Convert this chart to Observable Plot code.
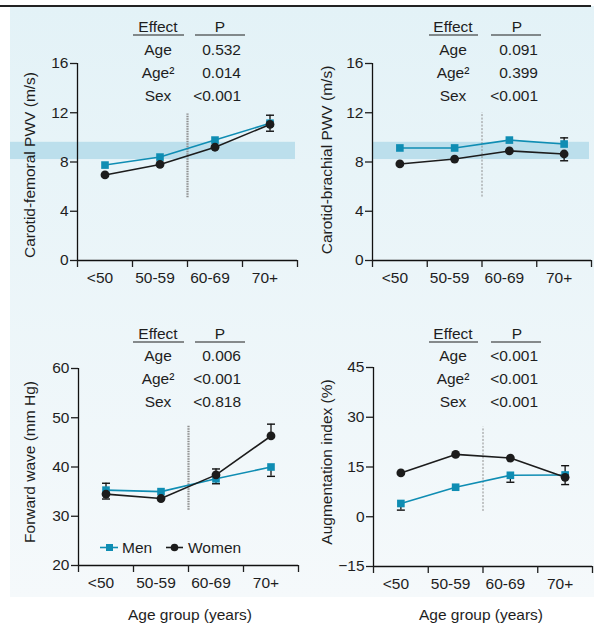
<!DOCTYPE html>
<html><head><meta charset="utf-8">
<script src="https://cdn.jsdelivr.net/npm/d3@7"></script>
<script src="https://cdn.jsdelivr.net/npm/@observablehq/plot@0.6"></script>
<style>
body{margin:0;background:#fff;}
#wrap{position:relative;width:594px;height:630px;overflow:hidden;font-family:"Liberation Sans",Arial,sans-serif;}
.bg{position:absolute;left:10px;top:6px;width:584px;height:591px;background:linear-gradient(#e3f2f7,#f5f9fb);}
.topline{position:absolute;left:0;top:5px;width:591px;height:1.5px;background:#222;}
.p{position:absolute;}
</style></head>
<body><div id="wrap"><div class="bg"></div><div class="topline"></div></div>
<script>
const categories = ["<50", "50-59", "60-69", "70+"];
const effects = ["Age", "Age²", "Sex"];

// Carotid-femoral PWV (m/s)
const cfMen = [7.75, 8.4, 9.78, 11.15];
const cfWomen = [6.95, 7.8, 9.2, 11.05];
const cfMenUp = [0, 0, 0, 0], cfMenDown = [0, 0, 0, 0.65];
const cfWomenUp = [0, 0, 0, 0.75], cfWomenDown = [0, 0, 0, 0];
const cfP = ["0.532", "0.014", "<0.001"];
const cfDivider = [5.1, 11.9];

// Carotid-brachial PWV (m/s)
const cbMen = [9.14, 9.14, 9.78, 9.46];
const cbWomen = [7.84, 8.24, 8.9, 8.65];
const cbMenUp = [0, 0, 0, 0.5], cbMenDown = [0, 0, 0, 0];
const cbWomenUp = [0, 0, 0, 0], cbWomenDown = [0, 0, 0, 0.55];
const cbP = ["0.091", "0.399", "<0.001"];
const cbDivider = [5.15, 12.0];

// Forward wave (mm Hg)
const fwMen = [35.3, 35.0, 37.6, 40.0];
const fwWomen = [34.5, 33.6, 38.4, 46.3];
const fwMenUp = [1.4, 0, 0, 0], fwMenDown = [0, 0, 1.0, 1.9];
const fwWomenUp = [0, 0, 1.2, 2.4], fwWomenDown = [1.0, 0, 0, 0];
const fwP = ["0.006", "<0.001", "<0.818"];
const fwDivider = [31.2, 48.4];

// Augmentation index (%)
const aiMen = [4.0, 8.9, 12.5, 12.6];
const aiWomen = [13.2, 18.8, 17.7, 11.9];
const aiMenUp = [0, 0, 0, 2.8], aiMenDown = [2.0, 0, 2.1, 0];
const aiWomenUp = [0, 0, 0, 0], aiWomenDown = [0, 0, 0, 2.2];
const aiP = ["<0.001", "<0.001", "<0.001"];
const aiDivider = [1.6, 27.0];

const referenceBand = [8.2, 9.6];
const seriesNames = ["Men", "Women"];

const teal = "#0f8db3";
const dark = "#1c1c1c";
const ink = "#1e1e1e";
const FS = 15.5;

const capSymbol = {
  draw(ctx, size) {
    const w = Math.sqrt(size / Math.PI);
    ctx.moveTo(-w, 0);
    ctx.lineTo(w, 0);
  }
};

function makePanel(cfg) {
  const rows = categories.map((c, i) => ({c, x: i + 0.5, men: cfg.men[i], women: cfg.women[i]}));
  const errs = [];
  categories.forEach((c, i) => {
    [["men", cfg.menUp, 1], ["men", cfg.menDown, -1], ["women", cfg.womenUp, 1], ["women", cfg.womenDown, -1]]
      .forEach(([s, arr, sg]) => {
        if (arr[i]) errs.push({x: i + 0.5, y1: cfg[s][i], y2: cfg[s][i] + sg * arr[i]});
      });
  });
  const plot = Plot.plot({
    width: cfg.width, height: cfg.height,
    marginTop: cfg.marginTop, marginBottom: cfg.marginBottom,
    marginLeft: cfg.marginLeft, marginRight: cfg.marginRight,
    x: {domain: [0, 4]},
    y: {domain: cfg.yDomain},
    style: {fontFamily: "'Liberation Sans', Arial, sans-serif", fontSize: FS + "px", color: ink, background: "transparent", overflow: "visible"},
    marks: [
      Plot.ruleX([2], {y1: cfg.divider[0], y2: cfg.divider[1], stroke: "#8e8e8e", strokeWidth: cfg.divW, strokeDasharray: cfg.divDash}),
      Plot.ruleX(errs, {x: "x", y1: "y1", y2: "y2", stroke: "#111", strokeWidth: 1.3}),
      Plot.dot(errs, {x: "x", y: "y2", symbol: capSymbol, r: 4, fill: "none", stroke: "#111", strokeWidth: 1.4}),
      Plot.line(rows, {x: "x", y: "men", stroke: teal, strokeWidth: 1.6}),
      Plot.line(rows, {x: "x", y: "women", stroke: dark, strokeWidth: 1.6}),
      Plot.dot(rows, {x: "x", y: "men", symbol: "square", r: 4.3, fill: teal}),
      Plot.dot(rows, {x: "x", y: "women", symbol: "circle", r: 4.4, fill: dark}),
      Plot.ruleX([0], {stroke: "#111", strokeWidth: 1.3}),
      Plot.ruleY([cfg.yDomain[0]], {stroke: "#111", strokeWidth: 1.3}),
      Plot.axisY({ticks: cfg.yTicks, tickSize: 7, tickPadding: 2, label: null, strokeWidth: 1.3, fontSize: FS, fill: ink}),
      Plot.axisX({ticks: [0, 1, 2, 3, 4], tickSize: 7, tickFormat: () => "", label: null, strokeWidth: 1.3}),
      Plot.text(rows, {x: "x", text: "c", frameAnchor: "bottom", dy: 22, dx: -5, fontSize: FS, fill: ink})
    ]
  });
  const svg = d3.select(plot);
  if (cfg.band) {
    const y = plot.scale("y");
    const ya = y.apply(cfg.band[1]), yb = y.apply(cfg.band[0]);
    svg.insert("rect", ":first-child")
      .attr("x", cfg.bandX[0]).attr("width", cfg.bandX[1] - cfg.bandX[0])
      .attr("y", ya).attr("height", yb - ya)
      .attr("fill", "#bcdfec");
  }
  // y-axis title
  svg.append("text")
    .attr("transform", `translate(${cfg.yTitlePos[0]},${cfg.yTitlePos[1]}) rotate(-90)`)
    .attr("text-anchor", "middle").attr("dy", "0.35em")
    .attr("fill", ink).attr("font-size", 15.5)
    .text(cfg.yLabel);
  // effects table
  const t = cfg.table;
  const g = svg.append("g").attr("fill", ink).attr("font-size", FS);
  g.append("text").attr("x", t.effX).attr("y", t.y0).attr("text-anchor", "middle").text("Effect");
  g.append("text").attr("x", t.pX).attr("y", t.y0).attr("text-anchor", "middle").text("P");
  g.append("line").attr("x1", t.u1[0]).attr("x2", t.u1[1]).attr("y1", t.uy).attr("y2", t.uy).attr("stroke", ink).attr("stroke-width", 1.2);
  g.append("line").attr("x1", t.u2[0]).attr("x2", t.u2[1]).attr("y1", t.uy).attr("y2", t.uy).attr("stroke", ink).attr("stroke-width", 1.2);
  effects.forEach((e, i) => {
    const yy = t.y0 + (i + 1) * t.dy;
    g.append("text").attr("x", t.effX).attr("y", yy).attr("text-anchor", "middle").text(e);
    g.append("text").attr("x", t.valX).attr("y", yy).attr("text-anchor", "end").text(cfg.pvals[i]);
  });
  if (cfg.xTitle) {
    svg.append("text").attr("x", cfg.xTitlePos[0]).attr("y", cfg.xTitlePos[1])
      .attr("text-anchor", "middle").attr("fill", ink).attr("font-size", FS).text(cfg.xTitle);
  }
  if (cfg.legend) {
    const L = svg.append("g").attr("font-size", FS).attr("fill", ink).attr("text-anchor", "start");
    const ly = cfg.legendY;
    L.append("line").attr("x1", 100).attr("x2", 118).attr("y1", ly).attr("y2", ly).attr("stroke", teal).attr("stroke-width", 1.6);
    L.append("rect").attr("x", 106).attr("y", ly - 3.5).attr("width", 7).attr("height", 7).attr("fill", teal);
    L.append("text").attr("x", 122).attr("y", ly + 5.5).text(seriesNames[0]);
    L.append("line").attr("x1", 166).attr("x2", 183).attr("y1", ly).attr("y2", ly).attr("stroke", dark).attr("stroke-width", 1.6);
    L.append("circle").attr("cx", 174.5).attr("cy", ly).attr("r", 3.8).attr("fill", dark);
    L.append("text").attr("x", 188).attr("y", ly + 5.5).text(seriesNames[1]);
  }
  plot.classList.add("p");
  plot.style.left = cfg.left + "px";
  plot.style.top = cfg.top + "px";
  document.getElementById("wrap").appendChild(plot);
}

const tableLeft = {effX: 158, pX: 220, valX: 241, u1: [133, 184], u2: [195, 245]};
const tableRight = {effX: 159, pX: 223, valX: 244, u1: [135, 184], u2: [197, 247]};

makePanel({
  left: 0, top: 0, width: 300, height: 300, marginTop: 63, marginBottom: 40, marginLeft: 77, marginRight: 3,
  yDomain: [0, 16], yTicks: [0, 4, 8, 12, 16], yLabel: "Carotid-femoral PWV (m/s)", yTitlePos: [30, 165],
  men: cfMen, women: cfWomen, menUp: cfMenUp, menDown: cfMenDown, womenUp: cfWomenUp, womenDown: cfWomenDown,
  divider: cfDivider, divW: 2.2, divDash: "1.5,1", band: referenceBand, bandX: [10, 295],
  pvals: cfP, table: {...tableLeft, y0: 31.5, dy: 23, uy: 35}
});
makePanel({
  left: 294, top: 0, width: 300, height: 300, marginTop: 63, marginBottom: 40, marginLeft: 78, marginRight: 3,
  yDomain: [0, 16], yTicks: [0, 4, 8, 12, 16], yLabel: "Carotid-brachial PWV (m/s)", yTitlePos: [33, 160],
  men: cbMen, women: cbWomen, menUp: cbMenUp, menDown: cbMenDown, womenUp: cbWomenUp, womenDown: cbWomenDown,
  divider: cbDivider, divW: 1, divDash: "2,1.5", band: referenceBand, bandX: [78, 295],
  pvals: cbP, table: {...tableRight, y0: 31.5, dy: 23, uy: 35}
});
makePanel({
  left: 0, top: 300, width: 300, height: 330, marginTop: 68, marginBottom: 65, marginLeft: 78, marginRight: 2,
  yDomain: [20, 60], yTicks: [20, 30, 40, 50, 60], yLabel: "Forward wave (mm Hg)", yTitlePos: [30, 162],
  men: fwMen, women: fwWomen, menUp: fwMenUp, menDown: fwMenDown, womenUp: fwWomenUp, womenDown: fwWomenDown,
  divider: fwDivider, divW: 2.2, divDash: "1.5,1",
  pvals: fwP, table: {...tableLeft, y0: 38.5, dy: 22.7, uy: 42},
  xTitle: "Age group (years)", xTitlePos: [190, 319.5],
  legend: true, legendY: 247.5
});
makePanel({
  left: 294, top: 300, width: 300, height: 330, marginTop: 67, marginBottom: 64, marginLeft: 79, marginRight: 2,
  yDomain: [-15, 45], yTicks: [-15, 0, 15, 30, 45], yLabel: "Augmentation index (%)", yTitlePos: [33, 162],
  men: aiMen, women: aiWomen, menUp: aiMenUp, menDown: aiMenDown, womenUp: aiWomenUp, womenDown: aiWomenDown,
  divider: aiDivider, divW: 1, divDash: "2,1.5",
  pvals: aiP, table: {...tableRight, y0: 38.5, dy: 22.7, uy: 42},
  xTitle: "Age group (years)", xTitlePos: [187, 319.5]
});
</script>
</body></html>
